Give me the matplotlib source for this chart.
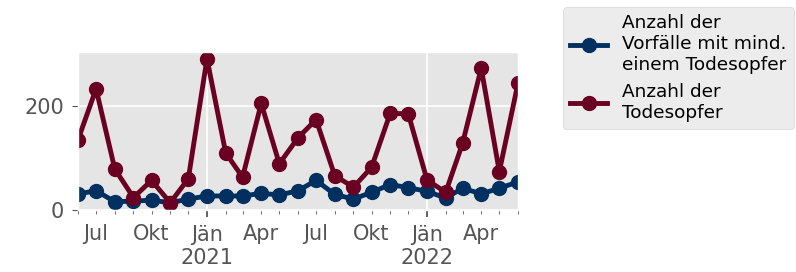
import matplotlib
matplotlib.use("Agg")
import matplotlib.pyplot as plt
import pandas as pd
from matplotlib.ticker import FixedLocator, FixedFormatter

plt.style.use("ggplot")

months = pd.date_range("2020-06-01", "2022-06-01", freq="MS")
vorfaelle = [31, 37, 16, 17, 19, 14, 21, 27, 27, 27, 32, 29, 37,
             57, 30, 21, 34, 49, 43, 36, 23, 42, 31, 42, 54]
todesopfer = [135, 233, 79, 24, 57, 14, 60, 291, 110, 63, 205, 89, 139,
              174, 66, 44, 82, 186, 185, 58, 34, 128, 273, 74, 244]
labels = ["Anzahl der\nVorfälle mit mind.\neinem Todesopfer", "Anzahl der\nTodesopfer"]
colors = ["#00305f", "#6a0022"]
month_names = {1: "Jän", 4: "Apr", 7: "Jul", 10: "Okt"}

fig = plt.figure(figsize=(7.96, 2.72), dpi=100)
ax = fig.add_axes([78/796, 1-210/272, (518-78)/796, (210-52)/272])

ax.plot(months, vorfaelle, color=colors[0], lw=3.5, marker="o", ms=10, label=labels[0])
ax.plot(months, todesopfer, color=colors[1], lw=3.5, marker="o", ms=10, label=labels[1])

ax.set_xlim(months[0], months[-1])
ax.set_ylim(0, 304)
ax.set_yticks([0, 200])

major = [d for d in months if d.month == 1]
mdates = matplotlib.dates
ax.xaxis.set_major_locator(FixedLocator([mdates.date2num(d) for d in major]))
ax.xaxis.set_major_formatter(FixedFormatter([f"{month_names[1]}\n{d.year}" for d in major]))
ax.xaxis.set_minor_locator(FixedLocator([mdates.date2num(d) for d in months if d.month != 1]))
minor_lbl = [month_names.get(d.month, "") for d in months if d.month != 1]
ax.xaxis.set_minor_formatter(FixedFormatter(minor_lbl))

ax.tick_params(axis="y", which="major", labelsize=15, colors="#555555", length=4, pad=6)
ax.tick_params(axis="x", which="major", labelsize=15, colors="#555555", length=5, width=1.3, pad=6)
ax.tick_params(axis="x", which="minor", labelsize=15, labelcolor="#555555", color="#555555",
               length=3, pad=7)
ax.grid(which="minor", visible=False)
ax.grid(which="major", color="white", lw=1.2)

leg = ax.legend(loc="upper left", bbox_to_anchor=(563/796, 1-7/272),
                bbox_transform=fig.transFigure, borderaxespad=0,
                fontsize=13.3, frameon=True)
leg.get_frame().set_facecolor("#e8e8e8")
leg.get_frame().set_edgecolor("#cccccc")

fig.savefig("out.png", dpi=100)
